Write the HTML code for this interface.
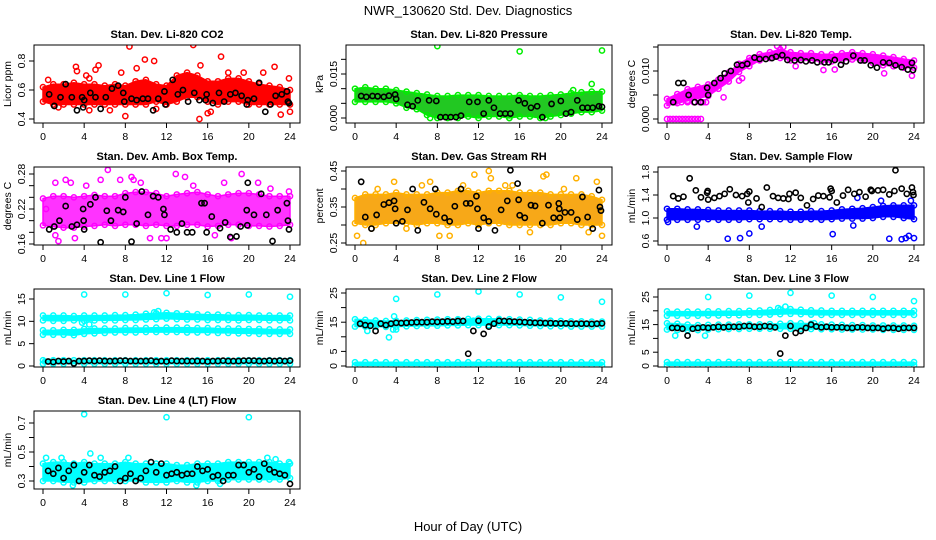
<!DOCTYPE html>
<html><head><meta charset="utf-8"><title>NWR_130620 Std. Dev. Diagnostics</title>
<style>
html,body{margin:0;padding:0;background:#fff;}
svg{display:block;font-family:"Liberation Sans",Arial,sans-serif;}
</style></head>
<body>
<svg id="chart" width="936" height="540" viewBox="0 0 936 540" xmlns="http://www.w3.org/2000/svg">
<rect x="0" y="0" width="936" height="540" fill="#fff"/>
<text x="468" y="15" text-anchor="middle" font-size="13">NWR_130620  Std. Dev. Diagnostics</text>
<text x="468" y="531" text-anchor="middle" font-size="13">Hour of Day (UTC)</text>
</svg>
<script>
// ---------- shared x grids ----------
const hours = [0,1,2,3,4,5,6,7,8,9,10,11,12,13,14,15,16,17,18,19,20,21,22,23,24];
const halfHours = [0.5,1,1.5,2,2.5,3,3.5,4,4.5,5,5.5,6,6.5,7,7.5,8,8.5,9,9.5,10,10.5,11,11.5,12,12.5,13,13.5,14,14.5,15,15.5,16,16.5,17,17.5,18,18.5,19,19.5,20,20.5,21,21.5,22,22.5,23,23.5,24];
const xTicks = [0,4,8,12,16,20,24];

// ---------- P1 CO2 ----------
const co2Lo = [0.52,0.5,0.5,0.5,0.5,0.5,0.5,0.5,0.5,0.5,0.5,0.52,0.5,0.52,0.55,0.55,0.52,0.5,0.52,0.52,0.5,0.5,0.5,0.5,0.5];
const co2Hi = [0.62,0.64,0.64,0.65,0.64,0.64,0.63,0.64,0.63,0.66,0.67,0.64,0.63,0.7,0.72,0.7,0.66,0.66,0.68,0.68,0.66,0.64,0.63,0.62,0.6];
const co2ExX = [0.5,3.2,3.3,4.2,4.5,5.1,5.4,7.6,8,8.4,9.1,9.9,10.8,13.2,14.6,15.2,15.3,16,16.3,17.3,19.5,21.4,22.5,23.1,23.9,24,4.5,1.5,6.5,11,18];
const co2ExY = [0.67,0.76,0.73,0.70,0.68,0.74,0.77,0.72,0.42,0.9,0.75,0.81,0.80,0.94,0.91,0.40,0.77,0.44,0.45,0.83,0.72,0.72,0.76,0.43,0.68,0.45,0.46,0.48,0.46,0.47,0.72];
const co2BX = [0.6,1.1,1.7,2.2,2.8,3.3,3.8,3.9,4.0,4.6,5.1,5.6,6.1,6.7,7.3,7.8,7.9,8.6,9.1,9.7,10.2,10.7,11.2,11.8,11.9,12.6,13.1,13.6,14.1,14.7,15.2,15.8,15.9,16.5,17.1,17.6,18.2,18.7,19.3,19.8,19.9,20.5,21,21.6,22.1,22.6,23.2,23.7,23.8,23.9];
const co2BY = [0.57,0.49,0.55,0.64,0.55,0.46,0.55,0.48,0.53,0.58,0.55,0.47,0.55,0.61,0.63,0.58,0.52,0.54,0.53,0.54,0.54,0.46,0.54,0.59,0.50,0.67,0.57,0.60,0.52,0.58,0.53,0.53,0.57,0.51,0.58,0.52,0.57,0.58,0.56,0.50,0.53,0.54,0.65,0.45,0.50,0.56,0.57,0.59,0.52,0.51];

// ---------- P2 Pressure ----------
const prLo = [0.0055,0.0055,0.0055,0.0055,0.0050,0.0035,0.0030,0.0010,0.0000,0.0000,0.0000,0.0005,0.0000,0.0005,0.0005,0.0000,0.0005,0.0005,0.0000,0.0005,0.0010,0.0015,0.0020,0.0020,0.0025];
const prHi = [0.0100,0.0105,0.0100,0.0100,0.0095,0.0090,0.0085,0.0080,0.0075,0.0075,0.0078,0.0078,0.0078,0.0075,0.0075,0.0075,0.0078,0.0075,0.0075,0.0078,0.0080,0.0085,0.0088,0.0090,0.0090];
const prExX = [8,16,24,23,21.2,7.3,15,18.5];
const prExY = [0.0245,0.0227,0.0230,0.0116,0.0095,0.0000,0.0000,0.0000];
const prBX = [0.6,1.1,1.7,2.2,2.8,3.3,3.9,4,5.1,5.6,6.1,7.2,7.9,8.3,8.8,9.3,9.8,10.3,11.1,11.9,12.5,13.0,13.5,14.1,14.6,15.1,15.9,16.5,17.1,17.7,18.2,19.1,20,20.5,21.0,21.6,22.1,22.6,23.1,23.7,24];
const prBY = [0.0075,0.0072,0.0075,0.0074,0.0072,0.0076,0.0080,0.0065,0.0045,0.0040,0.0060,0.0060,0.0058,0.0003,0.0003,0.0003,0.0003,0.0008,0.0055,0.0055,0.0015,0.0060,0.0035,0.0015,0.0015,0.0015,0.0060,0.0050,0.0035,0.0040,0.0003,0.0048,0.0058,0.0015,0.0020,0.0060,0.0035,0.0035,0.0035,0.0040,0.0038];

// ---------- P3 Li-820 Temp ----------
const tmLo = [0.0028,0.0033,0.0038,0.0043,0.0048,0.0063,0.0078,0.0098,0.0110,0.0122,0.0127,0.0127,0.0122,0.0122,0.0122,0.0120,0.0120,0.0122,0.0124,0.0122,0.0117,0.0112,0.0110,0.0107,0.0107];
const tmHi = [0.0042,0.0052,0.0062,0.0067,0.0072,0.0082,0.0097,0.0115,0.0127,0.0135,0.0139,0.0145,0.0139,0.0137,0.0137,0.0135,0.0135,0.0137,0.0139,0.0137,0.0135,0.0132,0.0129,0.0125,0.0122];
const tmExX = [0,0.3,0.6,0.9,1.2,1.5,1.8,2.1,2.4,2.7,3.0,3.3,0.2,0.8,1.4,2.0,2.6,3.2,3.5,3.8,5.5,7.0,7.3,12.5,15.2,16.3,21.1,23.8,10.7,11.3];
const tmExY = [0,0,0,0,0,0,0,0,0,0,0,0,0.0035,0.0035,0.0035,0.0035,0.0035,0.0035,0.0035,0.0035,0.0045,0.0080,0.0085,0.0110,0.0102,0.0103,0.0095,0.0090,0.0152,0.0150];
const tmBX = [0.6,1.1,1.6,2.1,2.7,3.3,3.9,4,4.6,5.2,5.6,6.2,6.8,7.3,7.8,8.5,9.0,9.6,10.2,10.6,11.2,11.7,12.4,13,13.5,14.1,14.6,15.3,15.7,16.3,16.9,17.4,18.1,18.8,19.2,19.8,20.4,21.0,21.6,22.2,22.8,23.4,23.8,23.9];
const tmBY = [0.0035,0.0075,0.0075,0.005,0.0035,0.0035,0.0065,0.005,0.0075,0.0085,0.0095,0.010,0.0113,0.0112,0.0115,0.0128,0.0125,0.0125,0.0127,0.013,0.0133,0.0123,0.0122,0.0123,0.012,0.0122,0.0118,0.0118,0.0118,0.0123,0.0113,0.012,0.0132,0.0122,0.0122,0.0112,0.0107,0.0118,0.0117,0.0112,0.0108,0.0103,0.0117,0.0102];

// ---------- P4 Amb Box Temp ----------
const abLo = [0.192,0.190,0.188,0.188,0.190,0.191,0.193,0.191,0.193,0.193,0.191,0.193,0.191,0.191,0.193,0.193,0.190,0.191,0.193,0.193,0.191,0.191,0.190,0.191,0.193];
const abHi = [0.238,0.242,0.242,0.240,0.242,0.244,0.242,0.242,0.247,0.249,0.249,0.247,0.242,0.245,0.247,0.249,0.245,0.242,0.245,0.247,0.247,0.245,0.242,0.242,0.242];
const abExX = [1.2,1.5,1.2,2.2,6.3,7.5,8.6,8.8,12.9,13.8,19.3,11.5,12,5.6,3.1,2.7,4.2,9.5,14.6,17.6,20.9,22.1,0.3,16.7,23.9,10.4,18.3];
const abExY = [0.175,0.165,0.265,0.27,0.287,0.27,0.275,0.27,0.28,0.275,0.28,0.17,0.17,0.27,0.17,0.265,0.26,0.265,0.26,0.265,0.265,0.255,0.22,0.175,0.25,0.17,0.17];
const abBX = [0.6,1.1,1.6,2.2,2.8,3.3,3.9,3.95,4,4.6,5.1,5.6,6.2,6.6,7.3,7.8,8.0,8.6,9.1,9.6,10.2,10.7,11.2,11.7,11.8,12.4,13,13.5,14,14.5,15.4,15.7,15.9,16.4,17.2,17.7,18.2,18.8,19.2,19.8,19.85,19.9,20.5,21.2,21.7,22.3,22.8,23.7,23.8,23.9];
const abBY = [0.185,0.19,0.20,0.225,0.19,0.193,0.22,0.20,0.185,0.228,0.24,0.163,0.217,0.20,0.218,0.215,0.24,0.164,0.195,0.25,0.21,0.242,0.24,0.22,0.21,0.185,0.18,0.195,0.18,0.18,0.23,0.23,0.18,0.207,0.187,0.197,0.172,0.173,0.19,0.218,0.192,0.265,0.21,0.246,0.21,0.165,0.218,0.23,0.20,0.185];

// ---------- P5 Gas Stream RH ----------
const rhLo = [0.305,0.300,0.300,0.305,0.305,0.305,0.300,0.305,0.305,0.300,0.300,0.305,0.300,0.305,0.305,0.300,0.300,0.300,0.300,0.300,0.305,0.305,0.300,0.300,0.300];
const rhHi = [0.375,0.385,0.385,0.385,0.390,0.385,0.385,0.385,0.390,0.390,0.395,0.395,0.390,0.395,0.395,0.395,0.390,0.390,0.390,0.385,0.385,0.385,0.385,0.380,0.370];
const rhExX = [0.2,0.8,1.6,3.8,7.3,8.2,9.2,11.6,13,13.2,18.3,18.6,21.5,23.5,24,15.3,5,17,2.2,10.5,14.6,20.3,22.7,6.5];
const rhExY = [0.27,0.25,0.29,0.42,0.42,0.27,0.27,0.44,0.45,0.43,0.435,0.44,0.43,0.42,0.27,0.41,0.29,0.28,0.40,0.41,0.41,0.40,0.28,0.41];
const rhBX = [0.6,1,1.6,2.1,2.8,3.3,3.8,3.9,4,4.6,5.1,5.6,6.1,6.7,7.3,7.8,7.9,8.7,9.2,9.7,10.3,10.8,11.2,11.8,11.9,12,12.5,13,13.6,14.2,14.8,15.1,15.8,15.9,16,16.5,17.1,17.5,18.2,18.8,19.3,19.8,19.85,19.9,20.4,21.0,21.6,22.1,22.6,23.1,23.7,23.8,23.9];
const rhBY = [0.42,0.322,0.29,0.328,0.357,0.362,0.367,0.345,0.305,0.31,0.342,0.40,0.285,0.363,0.345,0.40,0.33,0.32,0.31,0.352,0.40,0.36,0.36,0.38,0.345,0.29,0.32,0.31,0.285,0.342,0.367,0.452,0.415,0.37,0.327,0.32,0.355,0.353,0.305,0.355,0.32,0.36,0.345,0.32,0.335,0.335,0.315,0.378,0.322,0.29,0.397,0.35,0.34];

// ---------- P6 Sample Flow ----------
const sfLo = [0.97,0.97,0.97,0.97,0.98,0.97,0.97,0.97,0.98,0.98,0.98,0.98,0.97,0.97,0.98,0.97,0.98,0.99,0.99,0.99,1.00,1.02,1.02,1.00,0.98];
const sfHi = [1.16,1.16,1.15,1.15,1.14,1.13,1.13,1.13,1.13,1.12,1.12,1.12,1.11,1.11,1.12,1.12,1.13,1.15,1.16,1.17,1.19,1.21,1.22,1.22,1.22];
const sfExX = [5.9,7.1,8.0,9.2,2.9,16.1,18.1,21.6,22.8,23.2,23.5,24,0.1,18.5,20.8,23.7];
const sfExY = [0.64,0.65,0.73,0.85,0.85,0.72,0.87,0.64,0.63,0.65,0.69,0.65,0.93,1.35,1.30,1.30];
const sfBX = [0.6,1.1,1.6,2.2,2.8,3.3,3.9,3.95,4,4.6,5.1,5.6,6.1,6.7,7.3,7.8,7.9,8,8.7,9.2,9.7,10.3,10.8,11.3,11.8,11.9,12.5,13,13.6,14.2,14.7,15.2,15.8,15.9,16,16.5,17.1,17.6,18.2,18.7,19.3,19.8,19.9,20.5,21,21.6,22.1,22.2,22.8,23.3,23.8,23.9,23.95];
const sfBY = [1.38,1.34,1.37,1.69,1.48,1.36,1.44,1.47,1.32,1.35,1.38,1.42,1.50,1.40,1.38,1.42,1.27,1.46,1.34,1.19,1.53,1.38,1.35,1.34,1.33,1.42,1.44,1.35,1.22,1.33,1.39,1.38,1.36,1.51,1.47,1.27,1.39,1.49,1.42,1.45,1.37,1.49,1.47,1.48,1.49,1.41,1.47,1.83,1.51,1.42,1.53,1.45,1.40];

// ---------- P7 Line 1 Flow ----------
const l1ALo = [10.2,10.1,10.1,10.2,10.1,10.2,10.2,10.2,10.3,10.3,10.4,10.5,10.6,10.5,10.4,10.4,10.3,10.3,10.3,10.2,10.3,10.3,10.2,10.2,10.2];
const l1AHi = [11.3,11.3,11.3,11.2,11.3,11.3,11.3,11.4,11.4,11.5,11.7,11.8,11.9,11.8,11.7,11.6,11.5,11.5,11.4,11.4,11.4,11.3,11.3,11.3,11.3];
const l1BLo = [7.0,7.0,7.0,6.9,7.2,7.3,7.4,7.5,7.5,7.5,7.6,7.6,7.6,7.6,7.5,7.5,7.5,7.4,7.4,7.3,7.3,7.2,7.2,7.2,7.2];
const l1BHi = [8.0,8.0,8.1,8.1,8.3,8.4,8.4,8.4,8.5,8.5,8.5,8.6,8.6,8.6,8.6,8.5,8.5,8.4,8.4,8.4,8.3,8.3,8.2,8.2,8.2];
const l1CLo = [0.5,0.5,0.5,0.5,0.5,0.5,0.5,0.5,0.5,0.5,0.5,0.5,0.5,0.5,0.5,0.5,0.5,0.5,0.5,0.5,0.5,0.5,0.5,0.5,0.5];
const l1CHi = [1.3,1.3,1.3,1.3,1.3,1.3,1.3,1.3,1.3,1.3,1.3,1.3,1.3,1.3,1.3,1.3,1.3,1.3,1.3,1.3,1.3,1.3,1.3,1.3,1.3];
const l1ExX = [4,8,12,16,20,24,3.8,4.5,11.2,10.8,0.2];
const l1ExY = [16,16,16.3,15.9,16,15.5,9.7,9.3,12.3,12.0,1.0];
const l1BY = [1.0,0.9,1.1,1.0,1.1,0.6,1.1,1.1,1.2,1.1,1.2,1.1,1.1,1.1,1.2,1.2,1.1,1.1,1.1,1.1,1.2,1.0,1.1,1.0,1.2,1.1,1.1,1.1,1.1,1.1,1.1,1.0,1.1,1.1,1.2,1.1,1.1,1.1,1.2,1.2,1.2,1.1,1.1,1.2,1.1,1.2,1.1,1.2];

// ---------- P8 Line 2 Flow ----------
const l2ALo = [13.5,13.5,13.5,13.4,13.5,13.6,13.7,13.8,13.8,13.9,13.9,14.0,14.0,14.0,14.0,14.0,13.9,13.8,13.7,13.6,13.6,13.5,13.5,13.5,13.5];
const l2AHi = [16.0,15.8,15.6,15.4,15.5,15.6,15.7,15.8,15.9,16.0,16.0,16.1,16.2,16.2,16.1,16.0,15.9,15.8,15.6,15.5,15.4,15.3,15.3,15.2,15.2];
const l2CLo = [0.2,0.2,0.2,0.2,0.2,0.2,0.2,0.2,0.2,0.2,0.2,0.2,0.2,0.2,0.2,0.2,0.2,0.2,0.2,0.2,0.2,0.2,0.2,0.2,0.2];
const l2CHi = [1.3,1.3,1.3,1.3,1.3,1.3,1.3,1.3,1.3,1.3,1.3,1.3,1.3,1.3,1.3,1.3,1.3,1.3,1.3,1.3,1.3,1.3,1.3,1.3,1.3];
const l2ExX = [4,8,12,16,20,24,3.3,3.7,1.2,3.8,11.5,4];
const l2ExY = [23,24.5,25.5,24.5,23.5,22,9.8,12.5,12,17,15.5,12.5];
const l2BY = [14.5,14,13.8,12.0,14.5,14,14.5,14.8,14.7,14.8,14.9,15,15,15,15.2,15.1,15.2,15.3,15.2,15.4,15.4,4.2,12.0,15.5,11.0,13.5,14.5,15.5,15.4,15.3,15.2,15.1,15,14.9,14.8,14.8,14.7,14.7,14.6,14.6,14.6,14.5,14.5,14.5,14.5,14.4,14.5,14.6];

// ---------- P9 Line 3 Flow ----------
const l3ALo = [18.2,18.2,18.2,18.2,18.3,18.3,18.4,18.4,18.5,18.5,18.6,18.8,18.9,18.8,18.6,18.5,18.5,18.5,18.5,18.5,18.5,18.5,18.5,18.5,18.5];
const l3AHi = [19.8,19.7,19.7,19.7,19.8,19.8,19.9,19.9,20.0,20.1,20.3,20.5,20.6,20.4,20.2,20.1,20.0,20.0,20.0,20.0,20.0,20.0,20.0,20.0,20.0];
const l3BLo = [13.2,13.0,13.0,13.0,13.2,13.3,13.4,13.4,13.5,13.5,13.5,13.5,13.5,13.5,13.4,13.3,13.3,13.2,13.2,13.2,13.2,13.1,13.1,13.1,13.1];
const l3BHi = [15.5,15.3,15.0,14.8,14.9,15.0,15.0,15.1,15.1,15.1,15.2,15.3,15.5,15.5,15.3,15.1,15.0,14.9,14.8,14.8,14.7,14.7,14.7,14.7,14.6];
const l3CLo = [0.3,0.3,0.3,0.3,0.3,0.3,0.3,0.3,0.3,0.3,0.3,0.3,0.3,0.3,0.3,0.3,0.3,0.3,0.3,0.3,0.3,0.3,0.3,0.3,0.3];
const l3CHi = [1.4,1.4,1.4,1.4,1.4,1.4,1.5,1.4,1.4,1.4,1.4,1.4,1.5,1.4,1.4,1.4,1.4,1.4,1.4,1.4,1.4,1.4,1.4,1.4,1.4];
const l3ExX = [4,8,12,16,20,24,0.8,3.7,10.8,11.5,14.3];
const l3ExY = [25,25.5,26.5,25.5,25,23.5,11,11,21,21.5,15.5];
const l3BY = [13.8,13.8,13.5,11.0,13.5,13.8,14,13.8,14,14.2,14,14.2,14.2,14.2,14.5,14.5,14.2,14.2,14.5,14.3,14.0,4.5,11.0,14.5,12.0,12.7,13.8,15,14.3,14,14.2,14,14,14,13.8,13.8,14,14,13.8,13.8,13.8,13.5,13.8,13.8,13.5,13.8,13.8,13.8];

// ---------- P10 Line 4 Flow ----------
const l4Lo = [0.30,0.30,0.29,0.29,0.29,0.30,0.30,0.30,0.30,0.30,0.29,0.29,0.29,0.30,0.29,0.29,0.30,0.30,0.31,0.31,0.31,0.31,0.31,0.31,0.32];
const l4Hi = [0.42,0.43,0.43,0.42,0.43,0.42,0.42,0.42,0.43,0.42,0.42,0.42,0.42,0.41,0.41,0.42,0.42,0.42,0.43,0.43,0.43,0.43,0.43,0.42,0.42];
const l4ExX = [4,12,20,4.6,1.8,0.3,2.9,5.6,8.3,14.9,17.2,21.8,22.6,23.9];
const l4ExY = [0.76,0.74,0.74,0.49,0.46,0.46,0.27,0.46,0.46,0.27,0.28,0.46,0.45,0.43];
const l4BY = [0.37,0.35,0.39,0.32,0.37,0.41,0.30,0.36,0.41,0.34,0.33,0.36,0.37,0.40,0.30,0.32,0.35,0.30,0.32,0.37,0.43,0.36,0.42,0.34,0.35,0.36,0.34,0.35,0.35,0.40,0.37,0.38,0.33,0.34,0.30,0.34,0.34,0.41,0.41,0.36,0.38,0.33,0.42,0.38,0.36,0.35,0.34,0.28];

const NS = "http://www.w3.org/2000/svg";
const svg = document.getElementById('chart');
function mk(tag, attrs, parent) {
  const e = document.createElementNS(NS, tag);
  for (const k in attrs) e.setAttribute(k, attrs[k]);
  parent.appendChild(e);
  return e;
}

function drawPanel(p) {
  const L = 34 + 312 * p.c, R = 300 + 312 * p.c;
  const T = 45 + 122 * p.r, B = 123 + 122 * p.r;
  const g = mk('g', {}, svg);
  
  
  const xs = h => (43 + 312 * p.c) + h * (247 / 24);
  const ys = v => p.p0 + (v - p.v0) * (p.p1 - p.p0) / (p.v1 - p.v0);
  const clip = mk('clipPath', {id: 'clip-' + p.name}, g);
  mk('rect', {x: L, y: T, width: R - L, height: B - T}, clip);
  const plot = mk('g', {'clip-path': 'url(#clip-' + p.name + ')'}, g);
  
  

  (p.bands || []).forEach((b) => {
    let d = '';
    b.x.forEach((h, i) => { d += (i ? 'L' : 'M') + xs(h).toFixed(1) + ',' + ys(b.hi[i]).toFixed(1); });
    for (let i = b.x.length - 1; i >= 0; i--) d += 'L' + xs(b.x[i]).toFixed(1) + ',' + ys(b.lo[i]).toFixed(1);
    d += 'Z';
    const band = mk('path', {d: d, fill: p.fill, 'fill-opacity': p.op || 1, stroke: p.color, 'stroke-width': 1.5, 'stroke-linejoin': 'round'}, plot);
    
    
    b.x.forEach((h, i) => {
      [b.lo[i], b.hi[i]].forEach(v => {
        const c = mk('circle', {cx: xs(h), cy: ys(v), r: 2.6, fill: 'none', stroke: p.color, 'stroke-width': 1.5}, plot);
        
        
      });
    });
  });
  p.exX.forEach((h, i) => {
    const c = mk('circle', {cx: xs(h), cy: ys(p.exY[i]), r: 2.6, fill: 'none', stroke: p.color, 'stroke-width': 1.5}, plot);
    
    
  });
  p.bX.forEach((h, i) => {
    const c = mk('circle', {cx: xs(h), cy: ys(p.bY[i]), r: 2.6, fill: 'none', stroke: '#000', 'stroke-width': 1.6}, plot);
    
    
  });

  const fr = mk('rect', {x: L, y: T, width: R - L, height: B - T, fill: 'none', stroke: '#000', 'stroke-width': 1}, g);
  
  

  const xa = mk('g', {}, g);
  
  
  mk('line', {x1: xs(0), x2: xs(24), y1: B, y2: B, stroke: '#000'}, xa);
  xTicks.forEach(t => {
    mk('line', {x1: xs(t), x2: xs(t), y1: B, y2: B + 5, stroke: '#000'}, xa);
    const tx = mk('text', {x: xs(t), y: B + 17, 'text-anchor': 'middle', 'font-size': 10.5}, xa);
    tx.textContent = String(t);
    
    
  });

  const ya = mk('g', {}, g);
  
  
  mk('line', {x1: L, x2: L, y1: ys(p.ticks[0]), y2: ys(p.ticks[p.ticks.length - 1]), stroke: '#000'}, ya);
  p.ticks.forEach(t => {
    mk('line', {x1: L, x2: L - 5, y1: ys(t), y2: ys(t), stroke: '#000'}, ya);
  });
  p.labels.forEach((lab, i) => {
    const y = ys(p.labelVals[i]);
    const tx = mk('text', {x: L - 9, y: y, 'text-anchor': 'middle', 'font-size': 10.5, transform: 'rotate(-90 ' + (L - 9) + ' ' + y + ')'}, ya);
    tx.textContent = lab;
    
    
  });
  const yc = (T + B) / 2;
  const yl = mk('text', {x: L - 23, y: yc, 'text-anchor': 'middle', 'font-size': 10.5, transform: 'rotate(-90 ' + (L - 23) + ' ' + yc + ')'}, g);
  yl.textContent = p.ylab;
  
  

  const tt = mk('text', {x: (L + R) / 2, y: T - 7, 'text-anchor': 'middle', 'font-size': 11, 'font-weight': 'bold'}, g);
  tt.textContent = p.title;
  
  
}

const panels = [
  {name: 'co2', c: 0, r: 0, title: 'Stan. Dev. Li-820 CO2', ylab: 'Licor ppm', v0: 0.4, p0: 119, v1: 0.8, p1: 61,
   ticks: [0.4, 0.6, 0.8], labels: ['0.4', '0.6', '0.8'], labelVals: [0.4, 0.6, 0.8],
   color: '#ff0000', fill: '#ff0000', bands: [{x: hours, lo: co2Lo, hi: co2Hi}], exX: co2ExX, exY: co2ExY, bX: co2BX, bY: co2BY},
  {name: 'pressure', c: 1, r: 0, title: 'Stan. Dev. Li-820 Pressure', ylab: 'kPa', v0: 0, p0: 118, v1: 0.015, p1: 74,
   ticks: [0, 0.005, 0.010, 0.015, 0.020], labels: ['0.000', '0.015'], labelVals: [0, 0.015],
   color: '#00ee00', fill: '#22c822', bands: [{x: hours, lo: prLo, hi: prHi}], exX: prExX, exY: prExY, bX: prBX, bY: prBY},
  {name: 'li820-temp', c: 2, r: 0, title: 'Stan. Dev. Li-820 Temp.', ylab: 'degrees C', v0: 0, p0: 119, v1: 0.010, p1: 71,
   ticks: [0, 0.005, 0.010, 0.015], labels: ['0.000', '0.010'], labelVals: [0, 0.010],
   color: '#ff00ff', fill: '#ff00ff', bands: [{x: hours, lo: tmLo, hi: tmHi}], exX: tmExX, exY: tmExY, bX: tmBX, bY: tmBY},
  {name: 'amb-box-temp', c: 0, r: 1, title: 'Stan. Dev. Amb. Box Temp.', ylab: 'degrees C', v0: 0.16, p0: 244, v1: 0.28, p1: 174,
   ticks: [0.16, 0.18, 0.20, 0.22, 0.24, 0.26, 0.28], labels: ['0.16', '0.22', '0.28'], labelVals: [0.16, 0.22, 0.28],
   color: '#ff00ff', fill: '#ff00ff', op: 0.8, bands: [{x: hours, lo: abLo, hi: abHi}], exX: abExX, exY: abExY, bX: abBX, bY: abBY},
  {name: 'gas-rh', c: 1, r: 1, title: 'Stan. Dev. Gas Stream RH', ylab: 'percent', v0: 0.25, p0: 243, v1: 0.45, p1: 171,
   ticks: [0.25, 0.30, 0.35, 0.40, 0.45], labels: ['0.25', '0.35', '0.45'], labelVals: [0.25, 0.35, 0.45],
   color: '#ffb000', fill: '#f7a818', bands: [{x: hours, lo: rhLo, hi: rhHi}], exX: rhExX, exY: rhExY, bX: rhBX, bY: rhBY},
  {name: 'sample-flow', c: 2, r: 1, title: 'Stan. Dev. Sample Flow', ylab: 'mL/min', v0: 0.6, p0: 241, v1: 1.8, p1: 172,
   ticks: [0.6, 1.0, 1.4, 1.8], labels: ['0.6', '1.0', '1.4', '1.8'], labelVals: [0.6, 1.0, 1.4, 1.8],
   color: '#0000ff', fill: '#0000ff', bands: [{x: hours, lo: sfLo, hi: sfHi}], exX: sfExX, exY: sfExY, bX: sfBX, bY: sfBY},
  {name: 'line1-flow', c: 0, r: 2, title: 'Stan. Dev. Line 1 Flow', ylab: 'mL/min', v0: 0, p0: 366, v1: 15, p1: 299,
   ticks: [0, 5, 10, 15], labels: ['0', '5', '10', '15'], labelVals: [0, 5, 10, 15],
   color: '#00ffff', fill: '#00ffff', bands: [{x: hours, lo: l1ALo, hi: l1AHi}, {x: hours, lo: l1BLo, hi: l1BHi}, {x: hours, lo: l1CLo, hi: l1CHi}],
   exX: l1ExX, exY: l1ExY, bX: halfHours, bY: l1BY},
  {name: 'line2-flow', c: 1, r: 2, title: 'Stan. Dev. Line 2 Flow', ylab: 'mL/min', v0: 0, p0: 366, v1: 25, p1: 293,
   ticks: [0, 5, 10, 15, 20, 25], labels: ['0', '5', '15', '25'], labelVals: [0, 5, 15, 25],
   color: '#00ffff', fill: '#00ffff', bands: [{x: hours, lo: l2ALo, hi: l2AHi}, {x: hours, lo: l2CLo, hi: l2CHi}],
   exX: l2ExX, exY: l2ExY, bX: halfHours, bY: l2BY},
  {name: 'line3-flow', c: 2, r: 2, title: 'Stan. Dev. Line 3 Flow', ylab: 'mL/min', v0: 0, p0: 366, v1: 25, p1: 297,
   ticks: [0, 5, 10, 15, 20, 25], labels: ['0', '5', '15', '25'], labelVals: [0, 5, 15, 25],
   color: '#00ffff', fill: '#00ffff', bands: [{x: hours, lo: l3ALo, hi: l3AHi}, {x: hours, lo: l3BLo, hi: l3BHi}, {x: hours, lo: l3CLo, hi: l3CHi}],
   exX: l3ExX, exY: l3ExY, bX: halfHours, bY: l3BY},
  {name: 'line4-flow', c: 0, r: 3, title: 'Stan. Dev. Line 4 (LT) Flow', ylab: 'mL/min', v0: 0.3, p0: 481, v1: 0.7, p1: 423,
   ticks: [0.3, 0.4, 0.5, 0.6, 0.7], labels: ['0.3', '0.5', '0.7'], labelVals: [0.3, 0.5, 0.7],
   color: '#00ffff', fill: '#00ffff', bands: [{x: hours, lo: l4Lo, hi: l4Hi}], exX: l4ExX, exY: l4ExY, bX: halfHours, bY: l4BY}
];
panels.forEach(drawPanel);
</script>
</body></html>
